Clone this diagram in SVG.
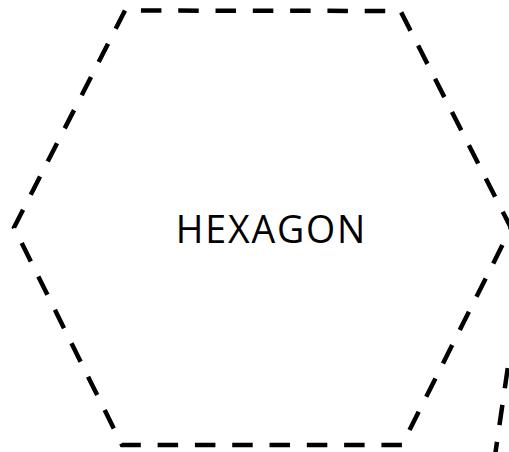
<svg xmlns="http://www.w3.org/2000/svg" width="509" height="452" viewBox="0 0 509 452">
<style>
.dash{fill:none;stroke:#000;stroke-width:4.5;stroke-dasharray:20.5 16.8;stroke-linejoin:miter}
.lbl{font-family:"Open Sans","Liberation Sans",sans-serif;font-size:37.5px;fill:#000}
</style>
<rect width="509" height="452" fill="#fff"/>
<g id="hexagon">
<path class="dash" d="M125,10.5 L14,227.5 L122,445 L402,445 L511,228 L400.5,11 Z"/>
<text class="lbl" x="175.8" y="243.3" textLength="189.4" lengthAdjust="spacing">HEXAGON</text>
</g>
<g id="connectors">
<path class="dash" d="M509.2,358 L494.1,462" stroke-dashoffset="27.2"/>
</g>
</svg>
